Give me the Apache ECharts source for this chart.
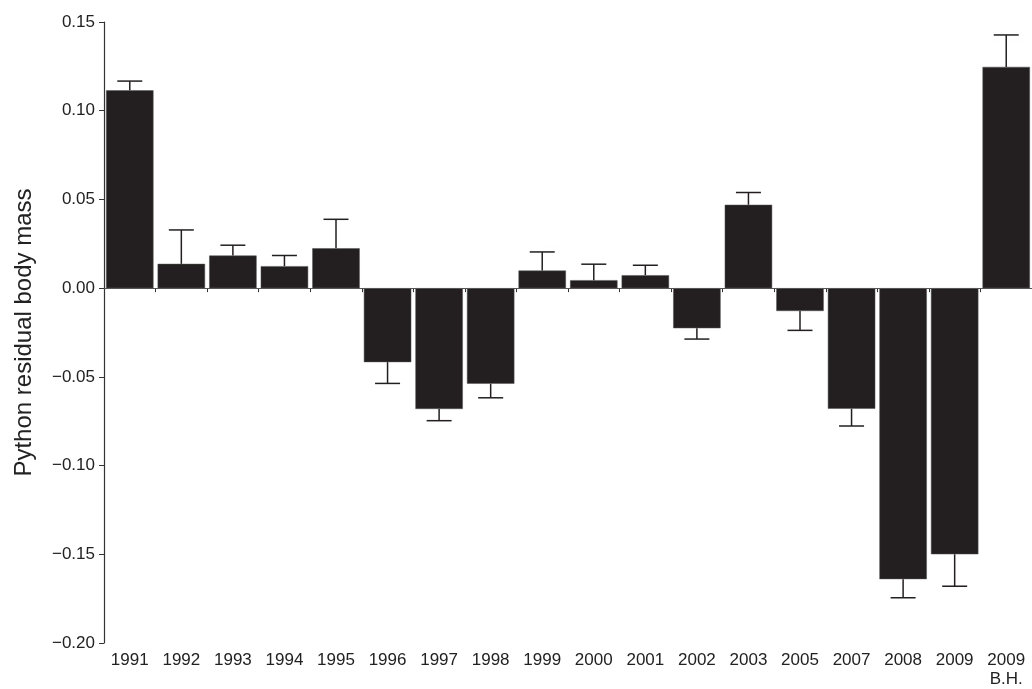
<!DOCTYPE html>
<html><head><meta charset="utf-8">
<script src="https://cdn.jsdelivr.net/npm/echarts@6/dist/echarts.min.js"></script>
<style>html,body{margin:0;padding:0;background:#fff}#c{width:1032px;height:689px}</style>
</head><body><div id="c"></div>
<script>
const categories = ['1991','1992','1993','1994','1995','1996','1997','1998','1999','2000','2001','2002','2003','2005','2007','2008','2009','2009\nB.H.'];
const means = [0.1115,0.0137,0.0184,0.0124,0.0225,-0.0417,-0.0681,-0.0539,0.0099,0.0045,0.0073,-0.0226,0.047,-0.0129,-0.068,-0.164,-0.150,0.1247];
const errEnds = [0.1167,0.0328,0.0242,0.0184,0.0388,-0.0537,-0.0747,-0.0618,0.0204,0.0135,0.0129,-0.0287,0.0539,-0.0238,-0.0777,-0.1745,-0.168,0.1427];
const yTicks = [-0.20,-0.15,-0.10,-0.05,0.00,0.05,0.10,0.15];

const FONT = "'Liberation Sans', Arial, Helvetica, sans-serif";
const chart = echarts.init(document.getElementById('c'));
chart.setOption({
  animation: false,
  grid: {left: 104, right: -4, top: 22, bottom: 43},
  xAxis: {
    type: 'category', data: categories,
    axisLine: {lineStyle: {color: '#333', width: 1}},
    axisTick: {show: true, alignWithLabel: false, length: 4, lineStyle: {color: '#333'}},
    axisLabel: {color: '#222', fontSize: 17, fontFamily: FONT, margin: 8, lineHeight: 19, interval: 0}
  },
  yAxis: {
    type: 'value', min: -0.20, max: 0.15, interval: 0.05,
    name: 'Python residual body mass', nameLocation: 'middle', nameGap: 68,
    nameTextStyle: {color: '#222', fontSize: 24, fontFamily: FONT},
    axisLine: {show: true, lineStyle: {color: '#333', width: 1.2}},
    axisTick: {show: true, length: 5, lineStyle: {color: '#333'}},
    splitLine: {show: false},
    axisLabel: {color: '#222', fontSize: 17, fontFamily: FONT, margin: 9,
      formatter: v => (v < 0 ? '\u2212' : '') + Math.abs(v).toFixed(2)}
  },
  series: [
    {
      type: 'bar', data: means, barCategoryGap: '8%',
      itemStyle: {color: '#231f20', borderColor: '#555', borderWidth: 0.5},
      markLine: {silent: true, symbol: 'none', label: {show: false},
        lineStyle: {color: '#555', width: 1.2, type: 'solid'},
        data: [{yAxis: 0}]}
    },
    {
      type: 'custom',
      data: means.map((m, i) => [i, m, errEnds[i]]),
      renderItem: function (params, api) {
        const p0 = api.coord([api.value(0), api.value(1)]);
        const p1 = api.coord([api.value(0), api.value(2)]);
        const half = 12.5;
        const style = {stroke: '#231f20', lineWidth: 1.5};
        return {type: 'group', children: [
          {type: 'line', shape: {x1: p0[0], y1: p0[1], x2: p1[0], y2: p1[1]}, style: style},
          {type: 'line', shape: {x1: p1[0] - half, y1: p1[1], x2: p1[0] + half, y2: p1[1]}, style: style}
        ]};
      },
      z: 3
    }
  ]
});
</script></body></html>
